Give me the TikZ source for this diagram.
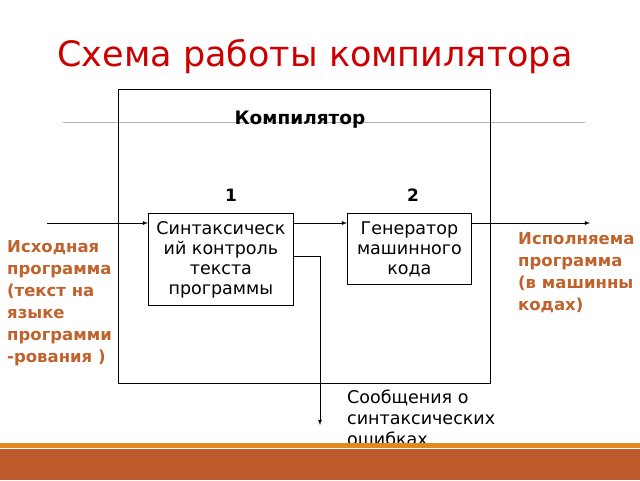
\documentclass[tikz,border=0pt]{standalone}
\usepackage{fontspec}
\setmainfont{DejaVu Sans}
\usetikzlibrary{calc}
\definecolor{titlered}{HTML}{CC0000}
\definecolor{notebrown}{HTML}{C0622B}
\definecolor{barlight}{HTML}{E08A1E}
\definecolor{bardark}{HTML}{BE5A2B}
\begin{document}
\begin{tikzpicture}[x=1pt,y=-1pt,
    blk/.style={draw,thick,align=center,inner sep=2pt,font=\fontsize{17.5}{20}\selectfont},
    note/.style={anchor=north west,align=left,text=notebrown,font=\fontsize{16.5}{22}\selectfont\bfseries,inner sep=0pt},
    flow/.style={thick,-latex}]
  \useasboundingbox (0,0) rectangle (640,480);
  \clip (0,0) rectangle (640,480);
  % title and rule
  \node (title) at (315,57) [text=titlered,font=\fontsize{35}{40}\selectfont] {Схема работы компилятора};
  \draw[gray!60,thick] (63,122) -- (585,122);
  % compiler frame
  \draw[thick] (118,89) rectangle (490,383);
  \node (comp) at (300,120) [font=\fontsize{18.5}{22}\selectfont\bfseries] {Компилятор};
  \node (one) at (231,195) [font=\fontsize{17}{20}\selectfont\bfseries] {1};
  \node (two) at (413,195) [font=\fontsize{17}{20}\selectfont\bfseries] {2};
  % blocks
  \node[blk,minimum width=145pt,minimum height=92pt,anchor=north west] (syn) at (148,213)
    {Синтаксическ\\ий контроль\\текста\\программы};
  \node[blk,minimum width=124pt,minimum height=71pt,anchor=north west] (gen) at (347,213)
    {Генератор\\машинного\\кода};
  % connectors
  \coordinate (in) at (47,223);
  \coordinate (out) at (590,223);
  \coordinate (err) at (320,425);
  \draw[flow] (in) -- (in -| syn.west);
  \draw[flow] (syn.east |- in) -- (gen.west |- in);
  \draw[flow] (gen.east |- in) -- (out);
  \draw[flow] ($(syn.north east)+(0,43)$) -| (err);
  % texts
  \node[anchor=north west,align=left,inner sep=0pt,font=\fontsize{17.5}{21}\selectfont] (msg) at (347,390)
    {Сообщения о\\синтаксических\\ошибках};
  \node[note] (src) at (7,240) {Исходная\\программа\\(текст на\\языке\\программи\\-рования )};
  \node[note] (exe) at (518,232) {Исполняема\\программа\\(в машинны\\кодах)};
  % bottom bars
  \fill[barlight] (0,443) rectangle (640,448);
  \fill[bardark] (0,449) rectangle (640,480);
\end{tikzpicture}
\end{document}
